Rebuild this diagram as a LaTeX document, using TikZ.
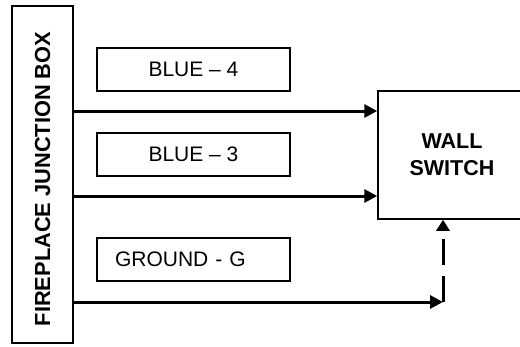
\documentclass[tikz,border=0pt]{standalone}
\usepackage{fontspec}
\setmainfont{Liberation Sans}
\usetikzlibrary{arrows.meta}
\begin{document}
\begin{tikzpicture}[x=1pt,y=-1pt,
  font=\fontsize{21}{25}\selectfont,
  labelbox/.style={draw,line width=1.4pt,minimum width=193pt,minimum height=43pt,inner sep=0pt},
  wire/.style={line width=3pt,-{Triangle[length=13pt,width=13pt]}},
  dashwire/.style={line width=3pt,dash pattern=on 26pt off 11pt,-{Triangle[length=11pt,width=13pt]}}]
\useasboundingbox (0,0) rectangle (520,346);
\node[draw,line width=2pt,minimum width=61pt,minimum height=337pt,inner sep=0pt] (jb) at (42.5,174.5) {};
\node[rotate=90,font=\fontsize{21.8}{25}\selectfont\bfseries] (jbt) at ([yshift=-4.5pt]jb.center) {FIREPLACE JUNCTION BOX};
\node[labelbox] (b4) at (193.5,69.5) {BLUE -- 4};
\node[labelbox] (b3) at (193.5,154.5) {BLUE -- 3};
\node[labelbox,text width=157pt,align=left,inner xsep=18pt] (gnd) at (193.5,259.5) {GROUND - G};
\node[draw,line width=1.5pt,minimum width=148pt,minimum height=128pt,inner sep=0pt,align=center,font=\fontsize{21.5}{27}\selectfont\bfseries] (sw) at (452,155) {WALL\\SWITCH};
\coordinate (c1) at (0,111);
\coordinate (c2) at (0,196);
\coordinate (c3) at (0,302);
\coordinate (gc) at (443,302);
\draw[wire] (jb.east |- c1) -- (sw.west |- c1);
\draw[wire] (jb.east |- c2) -- (sw.west |- c2);
\draw[wire] (jb.east |- c3) -- (gc);
\draw[dashwire] (gc) -- (gc |- sw.south);
\end{tikzpicture}
\end{document}
